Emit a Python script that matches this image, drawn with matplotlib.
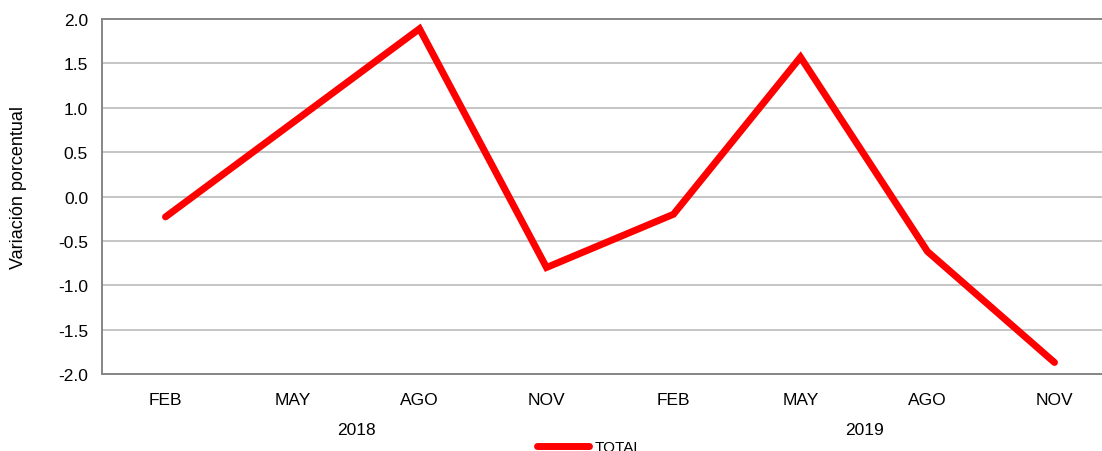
import matplotlib.pyplot as plt
import numpy as np

plt.rcParams['font.family'] = ['Liberation Sans', 'DejaVu Sans']

# quarterly months, two years
months = ['FEB', 'MAY', 'AGO', 'NOV', 'FEB', 'MAY', 'AGO', 'NOV']
years = ['2018', '2019']
total = [-0.23, 0.83, 1.89, -0.80, -0.20, 1.57, -0.62, -1.87]

x = np.arange(len(months))

fig = plt.figure(figsize=(11.02, 4.52), dpi=100)
# plot area runs past the right edge of the picture, as in the original
ax = fig.add_axes([102/1102, 1 - 375/452, 1016/1102, 355/452])

ax.plot(x, total, color='#FF0000', lw=5, solid_capstyle='round',
        solid_joinstyle='miter', label='TOTAL', zorder=3)

ax.set_xlim(-0.5, len(months) - 0.5)
ax.set_ylim(-2.0, 2.0)
ax.set_yticks(np.arange(-2.0, 2.01, 0.5))
ax.set_yticklabels([f'{v:.1f}' for v in np.arange(-2.0, 2.01, 0.5)])
ax.set_xticks(x)
ax.set_xticklabels(months)
ax.tick_params(length=0, labelsize=12.5, colors='#000000')
ax.tick_params(axis='x', pad=13)
ax.tick_params(axis='y', pad=10)

ax.grid(axis='y', color='#C0C0C0', lw=1.3)
ax.set_axisbelow(True)
for s in ['left', 'bottom', 'top']:
    ax.spines[s].set_color('#868686')
    ax.spines[s].set_linewidth(1.4)
ax.spines['right'].set_visible(False)

# year labels under each group of four
for i, yr in enumerate(years):
    ax.text(i * 4 + 1.5, -2.62, yr, ha='center', va='center', fontsize=12.5,
            transform=ax.transData)

ax.set_ylabel('Variación porcentual', fontsize=13)
ax.yaxis.set_label_coords(-0.074, 0.527)

ax.legend(loc='center', bbox_to_anchor=(590/1102, 1 - 448/452),
          bbox_transform=fig.transFigure, frameon=False, fontsize=11,
          handlelength=3.4, handletextpad=0.4)

fig.savefig('out.png', dpi=100)
